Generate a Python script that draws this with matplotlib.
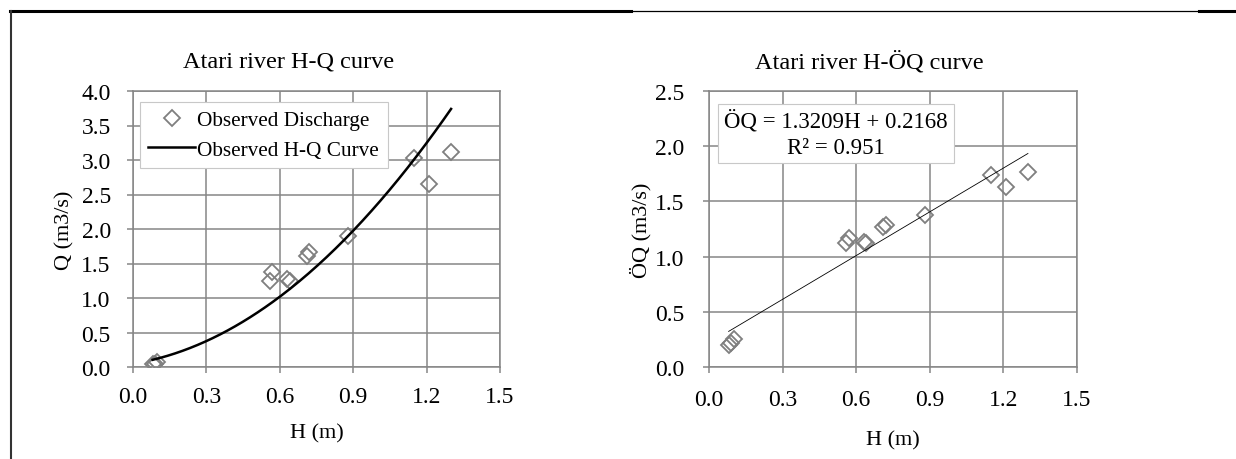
import numpy as np
import matplotlib
matplotlib.use("Agg")
import matplotlib.pyplot as plt
from matplotlib.lines import Line2D

plt.rcParams['font.family'] = ['Liberation Serif', 'DejaVu Serif']

# Observed gauge height (m), discharge (m3/s) and square root of discharge
H = [0.08, 0.09, 0.10, 0.56, 0.57, 0.63, 0.64, 0.71, 0.72, 0.88, 1.15, 1.21, 1.30]
Q = [0.04, 0.05, 0.07, 1.25, 1.37, 1.27, 1.25, 1.61, 1.66, 1.90, 3.03, 2.65, 3.12]
SQRT_Q = [0.20, 0.22, 0.25, 1.12, 1.17, 1.13, 1.12, 1.27, 1.29, 1.38, 1.74, 1.63, 1.77]

# Linear fit of sqrt(Q) against H
SLOPE = 1.3209
INTERCEPT = 0.2168
R2 = 0.951

X_TICKS = [0.0, 0.3, 0.6, 0.9, 1.2, 1.5]
Q_TICKS = [0.0, 0.5, 1.0, 1.5, 2.0, 2.5, 3.0, 3.5, 4.0]
SQ_TICKS = [0.0, 0.5, 1.0, 1.5, 2.0, 2.5]

W, Hpx = 1236, 460
fig = plt.figure(figsize=(W / 100, Hpx / 100), dpi=100)
fig.patch.set_facecolor('white')

GRID = '#868686'
MARK = '#7f7f7f'
TICK_FS = 17
LABEL_FS = 16
TITLE_FS = 17.5


def px_axes(x0, x1, ytop, ybot):
    return fig.add_axes([x0 / W, 1 - ybot / Hpx, (x1 - x0) / W, (ybot - ytop) / Hpx])


def style(ax, yticks, ylim, tickpad_x, tickpad_y):
    ax.set_xlim(0, 1.5)
    ax.set_ylim(*ylim)
    ax.set_xticks(X_TICKS)
    ax.set_xticklabels([f"{v:.1f}" for v in X_TICKS])
    ax.set_yticks(yticks)
    ax.set_yticklabels([f"{v:.1f}" for v in yticks])
    ax.grid(True, color=GRID, linewidth=1.1)
    ax.set_axisbelow(True)
    for s in ax.spines.values():
        s.set_color(GRID)
        s.set_linewidth(1.1)
    ax.tick_params(axis='x', direction='out', length=4, width=1.1, color=GRID,
                   labelsize=TICK_FS, pad=tickpad_x)
    ax.tick_params(axis='y', direction='out', length=4, width=1.1, color=GRID,
                   labelsize=TICK_FS, pad=tickpad_y)


h_line = np.linspace(min(H), max(H), 200)
sq_line = SLOPE * h_line + INTERCEPT

# Left panel: H-Q rating curve
ax1 = px_axes(133, 500, 92, 368)
style(ax1, Q_TICKS, (0, 4.0), 10, 12)
ax1.plot(H, Q, linestyle='none', marker='D', markersize=8, markerfacecolor='none',
         markeredgecolor=MARK, markeredgewidth=1.3, label='Observed Discharge')
ax1.plot(h_line, sq_line ** 2, color='black', linewidth=1.8, label='Observed H-Q Curve')
ax1.set_xlabel('H (m)', fontsize=LABEL_FS)
ax1.set_ylabel('Q (m3/s)', fontsize=LABEL_FS)
ax1.xaxis.set_label_coords(0.5, -0.205)
ax1.yaxis.set_label_coords(-0.16, 0.5)
leg = ax1.legend(loc='upper left', bbox_to_anchor=(0.019, 0.96), fontsize=15.3,
                 fancybox=False, framealpha=1, edgecolor='#c8c8c8',
                 handlelength=2.2, handletextpad=0.1, borderpad=0.4,
                 labelspacing=0.45, borderaxespad=0)
leg.get_frame().set_linewidth(0.8)
fig.text(289 / W, 1 - 62 / Hpx, 'Atari river H-Q curve', fontsize=TITLE_FS,
         ha='center', va='center')

# Right panel: H-sqrt(Q) linear fit
ax2 = px_axes(709, 1077, 92, 368)
style(ax2, SQ_TICKS, (0, 2.5), 12, 14)
ax2.plot(H, SQRT_Q, linestyle='none', marker='D', markersize=8, markerfacecolor='none',
         markeredgecolor=MARK, markeredgewidth=1.3)
ax2.plot(h_line, sq_line, color='black', linewidth=0.6)
ax2.set_xlabel('H (m)', fontsize=LABEL_FS)
ax2.set_ylabel('ÖQ (m3/s)', fontsize=LABEL_FS)
ax2.xaxis.set_label_coords(0.5, -0.23)
ax2.yaxis.set_label_coords(-0.155, 0.5)
ax2.text(0.345, 0.846, f"ÖQ = {SLOPE:.4f}H + {INTERCEPT:.4f}\nR² = {R2}",
         transform=ax2.transAxes, fontsize=16.5, ha='center', va='center',
         multialignment='center', linespacing=1.3,
         bbox=dict(boxstyle='square,pad=0.25', facecolor='white',
                   edgecolor='#c8c8c8', linewidth=0.8))
fig.text(869 / W, 1 - 62 / Hpx, 'Atari river H-ÖQ curve', fontsize=TITLE_FS,
         ha='center', va='center')

# Page frame lines
yt = 1 - 12 / Hpx
fig.add_artist(Line2D([10 / W, 631 / W], [yt, yt], color='black', linewidth=2.2))
fig.add_artist(Line2D([631 / W, 1199 / W], [yt, yt], color='black', linewidth=0.9))
fig.add_artist(Line2D([1199 / W, 1.0], [yt, yt], color='black', linewidth=2.2))
fig.add_artist(Line2D([11 / W, 11 / W], [0, yt], color='#333333', linewidth=1.5))

fig.savefig('out.png', dpi=100)
